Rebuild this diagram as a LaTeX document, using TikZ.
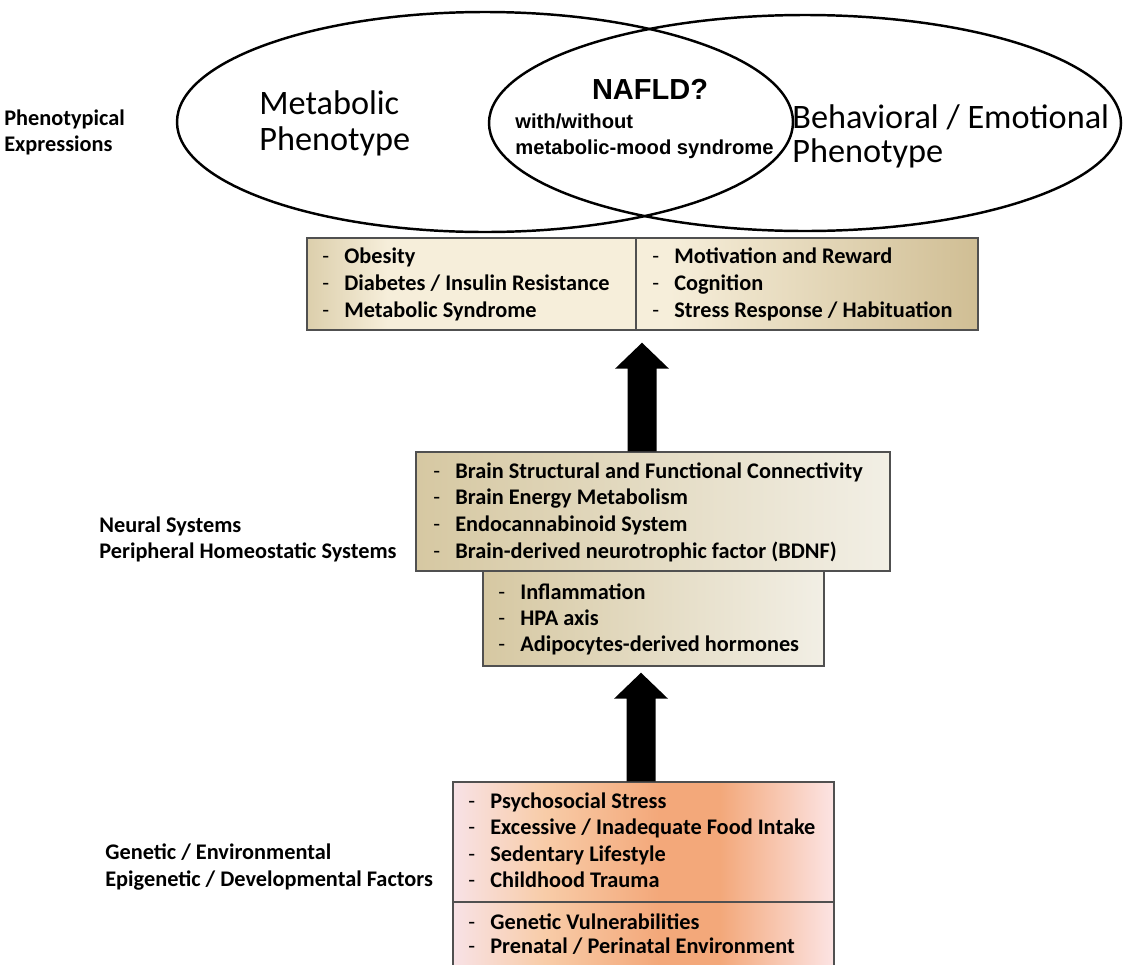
\documentclass[tikz,border=0pt]{standalone}
\usepackage{fontspec}
\setmainfont{Carlito}
\newfontfamily\naflfont{Liberation Sans}
\usetikzlibrary{calc,fit}

\definecolor{tanA}{RGB}{220,207,172}
\definecolor{creamA}{RGB}{246,238,218}
\definecolor{tanB}{RGB}{208,190,148}
\definecolor{tanC}{RGB}{214,200,162}
\definecolor{paleC}{RGB}{242,239,229}
\definecolor{pinkL}{RGB}{248,226,230}
\definecolor{peachM}{RGB}{248,204,168}
\definecolor{orangeM}{RGB}{243,168,122}
\definecolor{pinkR}{RGB}{252,228,228}
\definecolor{edgegray}{RGB}{80,80,80}

\pgfdeclarehorizontalshading{exprshade}{100bp}{color(0bp)=(tanA); color(25bp)=(tanA); color(31bp)=(creamA); color(52bp)=(creamA); color(75bp)=(tanB); color(100bp)=(tanB)}
\pgfdeclarehorizontalshading{riskshade}{100bp}{color(0bp)=(pinkL); color(25bp)=(pinkL); color(37bp)=(peachM); color(52bp)=(orangeM); color(60bp)=(orangeM); color(75bp)=(pinkR); color(100bp)=(pinkR)}

\def\blockarrow(#1)(#2){\fill ($(#2)+(-14.5,0)$) -- ($(#1)+(-14.5,26)$) -- ($(#1)+(-27,26)$) -- (#1) -- ($(#1)+(27,26)$) -- ($(#1)+(14.5,26)$) -- ($(#2)+(14.5,0)$) -- cycle;}

\begin{document}
\begin{tikzpicture}[x=0.02cm, y=-0.02cm,
	item/.style={anchor=mid west, inner sep=0pt, font=\bfseries\fontsize{12.7}{15}\selectfont},
	dashm/.style={anchor=mid west, inner sep=0pt, font=\fontsize{12.7}{15}\selectfont},
	lab/.style={anchor=mid west, inner sep=0pt, font=\bfseries\fontsize{12.7}{15}\selectfont},
	big/.style={anchor=mid west, inner sep=0pt, font=\fontsize{19.5}{23}\selectfont},
	sub/.style={anchor=mid west, inner sep=0pt, font=\naflfont\bfseries\fontsize{11.5}{13}\selectfont},
	panel/.style={draw=edgegray, line width=0.8pt, inner sep=0pt}]
			%%%%% START %%%%%
			\useasboundingbox (0,0) rectangle (1125,964);
			
			% phenotype ellipses
			\draw[line width=1.4pt] (485,122) ellipse [x radius=308, y radius=110];
			\draw[line width=1.4pt] (805,123) ellipse [x radius=316, y radius=108];
			
			\node[big] (met1) at (259,110) {Metabolic};
			\node[big] (met2) at (259,146) {Phenotype};
			\node[big] (beh1) at (792,124) {Behavioral / Emotional};
			\node[big] (beh2) at (792,158) {Phenotype};
			
			\node[inner sep=0pt, font=\naflfont\bfseries\fontsize{16.5}{19}\selectfont] (nafld) at (650,89) {NAFLD?};
			\node[sub] (with1) at (515,124) {with/without};
			\node[sub] (with2) at (515,150) {metabolic-mood syndrome};
			
			\node[lab] (phen1) at (4,121) {Phenotypical};
			\node[lab] (phen2) at (4,147) {Expressions};
			
			% expression box
			\node[panel, shade, shading=exprshade, fit={(307,238) (978,330)}] (expr) {};
			\draw[edgegray, line width=0.8pt] (636,238) -- (636,330);
			\foreach \txt [count=\i] in {Obesity, Diabetes / Insulin Resistance, Metabolic Syndrome}{
				\node[dashm] (exl-d\i) at (322,{232+27*\i}) {-};
				\node[item] (exl-t\i) at (344,{232+27*\i}) {\txt};
			}
			\foreach \txt [count=\i] in {Motivation and Reward, Cognition, Stress Response / Habituation}{
				\node[dashm] (exr-d\i) at (652,{232+27*\i}) {-};
				\node[item] (exr-t\i) at (674,{232+27*\i}) {\txt};
			}
			
			% neural / peripheral boxes
			\node[panel, left color=tanC, right color=paleC, fit={(416,452) (890,571)}] (neural) {};
			\node[panel, left color=tanC, right color=paleC, fit={(483,571) (824,666)}] (periph) {};
			\foreach \txt [count=\i] in {Brain Structural and Functional Connectivity, Brain Energy Metabolism, Endocannabinoid System, Brain-derived neurotrophic factor (BDNF)}{
				\node[dashm] (neu-d\i) at (433,{447.3+26.7*\i}) {-};
				\node[item] (neu-t\i) at (455,{447.3+26.7*\i}) {\txt};
			}
			\foreach \txt [count=\i] in {Inflammation, HPA axis, Adipocytes-derived hormones}{
				\node[dashm] (per-d\i) at (498,{569+26*\i}) {-};
				\node[item] (per-t\i) at (520,{569+26*\i}) {\txt};
			}
			\node[lab] (neu1) at (99,528) {Neural Systems};
			\node[lab] (neu2) at (99,554) {Peripheral Homeostatic Systems};
			
			% factor box
			\node[panel, shade, shading=riskshade, fit={(453,782) (834,980)}] (risk) {};
			\draw[edgegray, line width=0.8pt] (453,902) -- (834,902);
			\foreach \txt [count=\i] in {Psychosocial Stress, Excessive / Inadequate Food Intake, Sedentary Lifestyle, Childhood Trauma}{
				\node[dashm] (rsk-d\i) at (468,{777.5+26.5*\i}) {-};
				\node[item] (rsk-t\i) at (490,{777.5+26.5*\i}) {\txt};
			}
			\foreach \txt [count=\i] in {Genetic Vulnerabilities, Prenatal / Perinatal Environment}{
				\node[dashm] (gen-d\i) at (468,{901+24*\i}) {-};
				\node[item] (gen-t\i) at (490,{901+24*\i}) {\txt};
			}
			\node[lab] (gen1) at (105,855) {Genetic / Environmental};
			\node[lab] (gen2) at (105,882) {Epigenetic / Developmental Factors};
			
			% block arrows
			\path (expr.south) ++(-0.5,12) coordinate (a1tip);
			\path (a1tip |- neural.north) coordinate (a1base);
			\blockarrow(a1tip)(a1base)
			\path (periph.south -| risk.north) ++(-2.5,6) coordinate (a2tip);
			\path (a2tip |- risk.north) coordinate (a2base);
			\blockarrow(a2tip)(a2base)
			%%%%% END %%%%%
\end{tikzpicture}
\end{document}
